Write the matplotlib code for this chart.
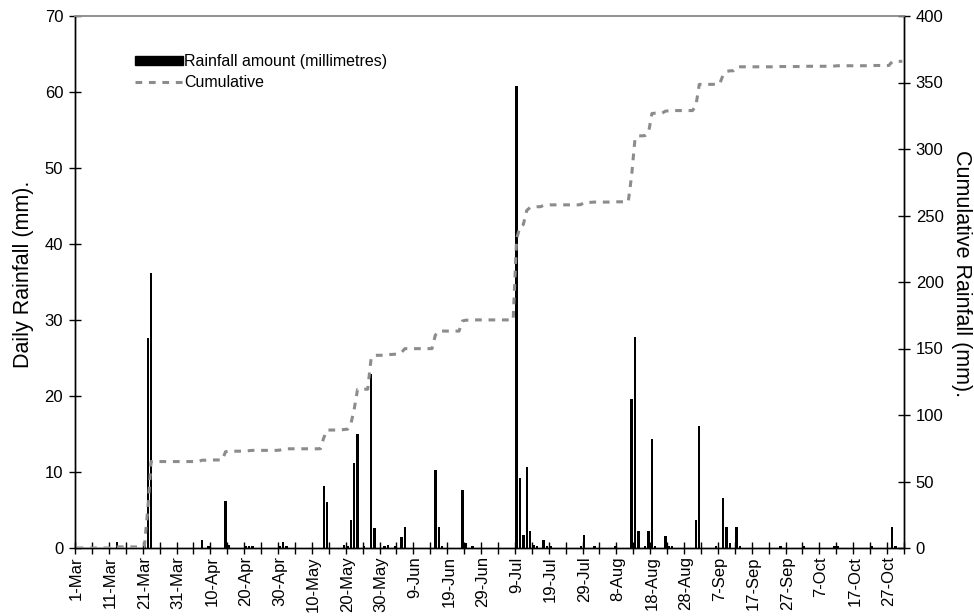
import matplotlib
matplotlib.use("Agg")
import matplotlib.pyplot as plt
import numpy as np
import pandas as pd
from matplotlib.patches import Patch
from matplotlib.lines import Line2D

plt.rcParams['font.family'] = ['Liberation Sans', 'DejaVu Sans']

# ---- data ----
start_date = "2001-03-01"
end_date = "2001-10-31"
rain_dates = [
    "2001-03-13", "2001-03-21", "2001-03-22", "2001-03-23",
    "2001-04-07", "2001-04-09", "2001-04-14", "2001-04-15",
    "2001-04-20", "2001-04-21", "2001-04-22", "2001-04-30",
    "2001-05-01", "2001-05-02", "2001-05-13", "2001-05-14",
    "2001-05-19", "2001-05-20", "2001-05-21", "2001-05-22",
    "2001-05-23", "2001-05-25", "2001-05-27", "2001-05-28",
    "2001-05-31", "2001-06-01", "2001-06-03", "2001-06-05",
    "2001-06-06", "2001-06-15", "2001-06-16", "2001-06-17",
    "2001-06-23", "2001-06-24", "2001-06-26", "2001-07-09",
    "2001-07-10", "2001-07-11", "2001-07-12", "2001-07-13",
    "2001-07-14", "2001-07-15", "2001-07-17", "2001-07-18",
    "2001-07-19", "2001-07-28", "2001-07-29", "2001-08-01",
    "2001-08-07", "2001-08-12", "2001-08-13", "2001-08-14",
    "2001-08-16", "2001-08-17", "2001-08-18", "2001-08-19",
    "2001-08-22", "2001-08-23", "2001-08-24", "2001-08-31",
    "2001-09-01", "2001-09-06", "2001-09-08", "2001-09-09",
    "2001-09-10", "2001-09-12", "2001-09-13", "2001-09-25",
    "2001-10-02", "2001-10-11", "2001-10-12", "2001-10-22",
    "2001-10-28", "2001-10-29",
]
rain_mm = [
    0.8, 0.4, 27.6, 36.2,
    1.0, 0.2, 6.2, 0.4,
    0.2, 0.2, 0.2, 0.2,
    0.8, 0.2, 8.1, 6.0,
    0.4, 0.2, 3.7, 11.2,
    15.0, 0.2, 22.9, 2.6,
    0.2, 0.4, 0.2, 1.4,
    2.8, 10.2, 2.8, 0.2,
    7.6, 0.6, 0.2, 60.8,
    9.2, 1.7, 10.6, 2.2,
    0.4, 0.2, 1.0, 0.2,
    0.2, 0.2, 1.7, 0.2,
    0.2, 19.6, 27.8, 2.2,
    0.2, 2.2, 14.4, 0.2,
    1.6, 0.2, 0.2, 3.7,
    16.0, 0.2, 6.6, 2.8,
    0.6, 2.8, 0.2, 0.2,
    0.2, 0.2, 0.2, 0.2,
    2.8, 0.3,
]
left_ticks = [0, 10, 20, 30, 40, 50, 60, 70]
right_ticks = [0, 50, 100, 150, 200, 250, 300, 350, 400]

# ---- build daily series ----
days = pd.date_range(start_date, end_date, freq="D")
daily = pd.Series(0.0, index=days)
daily.loc[pd.to_datetime(rain_dates)] = rain_mm
cumulative = daily.cumsum()
pos = np.arange(len(days)) + 0.5

fig = plt.figure(figsize=(9.74, 6.16), dpi=100)
ax = fig.add_axes([75/974, 1-548/616, (904-75)/974, (548-16)/616])
ax2 = ax.twinx()

ax.bar(pos, daily.values, width=0.7, color="black", zorder=2)
ax2.plot(pos, cumulative.values, color="#8c8c8c", lw=2.2,
         dashes=(2.2, 2.2), zorder=3)

ax.set_xlim(0, len(days))
ax.set_ylim(0, 70)
ax2.set_ylim(0, 400)
ax.set_yticks(left_ticks)
ax2.set_yticks(right_ticks)

# ticks between categories every 5 days, labels every 10 days on category
ax.set_xticks(np.arange(0, len(days) + 1, 5), minor=True)
lab_idx = np.arange(0, len(days), 10)
ax.set_xticks(pos[lab_idx])
ax.set_xticklabels([f"{d.day}-{d.strftime('%b')}" for d in days[lab_idx]],
                   rotation=90, fontsize=12)
ax.tick_params(axis="x", which="major", length=0, pad=6)
ax.tick_params(axis="x", which="minor", direction="inout", length=9, width=1)
ax.tick_params(axis="y", direction="inout", length=9, width=1, labelsize=12, pad=4)
ax2.tick_params(axis="y", direction="inout", length=9, width=1, labelsize=12, pad=4)

for a in (ax, ax2):
    for s in ("left", "right", "bottom"):
        a.spines[s].set_color("black")
        a.spines[s].set_linewidth(1.0)
    a.spines["top"].set_color("#909090")
    a.spines["top"].set_linewidth(1.2)

ax.set_ylabel("Daily Rainfall (mm).", fontsize=15.5, labelpad=10)
ax.yaxis.set_label_coords(-0.05, 0.515)
ax2.set_ylabel("Cumulative Rainfall (mm).", fontsize=15.5, rotation=270,
               labelpad=20)
ax2.yaxis.set_label_coords(1.082, 0.515)

handles = [Patch(facecolor="black", edgecolor="black"),
           Line2D([], [], color="#8c8c8c", lw=2.2, dashes=(2.2, 2.2))]
ax.legend(handles, ["Rainfall amount (millimetres)", "Cumulative"],
          loc="upper left", bbox_to_anchor=(0.055, 0.955), frameon=False,
          fontsize=11.5, handlelength=3.0, handleheight=0.5,
          handletextpad=0.1, labelspacing=0.35)

fig.savefig("out.png", dpi=100)
